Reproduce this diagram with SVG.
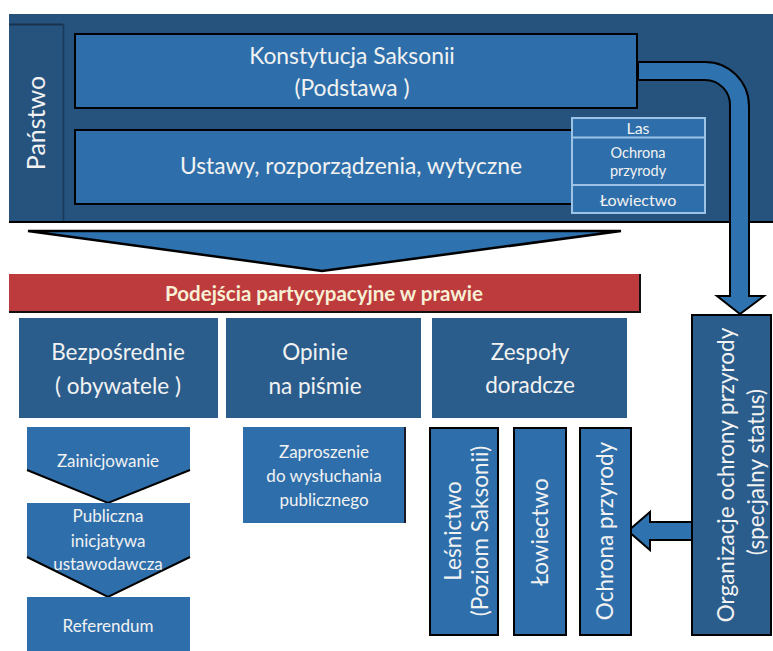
<svg xmlns="http://www.w3.org/2000/svg" width="773" height="651" viewBox="0 0 773 651">
<style>
text{font-family:Lato,"Open Sans","Liberation Sans",sans-serif;fill:#f2f2f2;text-anchor:middle}
.big{font-size:22.8px}
.mid{font-size:22.5px}
.sm{font-size:17px}
.xs{font-size:16px}
.xxs{font-size:14.5px}
.lite{fill:#2e6fab}
.mbox{fill:#2b5d8c}
.blk{stroke:#000;stroke-width:2}
</style>
<rect width="773" height="651" fill="#fff"/>
<g id="panstwo">
<rect x="9" y="14" width="764" height="209" fill="#26527e"/>
<line x1="9" y1="24.5" x2="63" y2="24.5" stroke="#18324d" stroke-width="2"/>
<line x1="63.5" y1="24" x2="63.5" y2="222" stroke="#1a3a5a" stroke-width="1.5"/>
<line x1="9" y1="222" x2="773" y2="222" stroke="#000" stroke-width="2"/>
<text transform="translate(45,123) rotate(-90)" style="font-size:25px">Państwo</text>
</g>
<g id="konstytucja">
<rect x="75" y="34" width="562" height="74" class="lite blk"/>
<text class="big" x="352" y="64">Konstytucja Saksonii</text>
<text class="big" x="352" y="96">(Podstawa )</text>
</g>
<g id="ustawy">
<rect x="75" y="130" width="498" height="74" class="lite blk"/>
<text class="big" x="351" y="174">Ustawy, rozporządzenia, wytyczne</text>
</g>
<g id="tabela">
<rect x="572" y="118" width="133" height="95" fill="#2e6fab" stroke="#9cc3e6" stroke-width="2"/>
<line x1="572" y1="137.5" x2="705" y2="137.5" stroke="#9cc3e6" stroke-width="2"/>
<line x1="572" y1="185" x2="705" y2="185" stroke="#9cc3e6" stroke-width="2"/>
<text class="xs" x="638" y="134">Las</text>
<text class="xxs" x="638" y="158">Ochrona</text>
<text class="xxs" x="638" y="176">przyrody</text>
<text class="xs" x="638" y="206">Łowiectwo</text>
</g>
<g id="connectors">
<path d="M638,62 H705 A44,44 0 0 1 749,106 V296 H764 L740,314 L717,296 H730 V106 A25,25 0 0 0 705,80 H638 Z" fill="#2e73b0" stroke="#000" stroke-width="2" stroke-linejoin="miter"/>
<path d="M28,231 L621,231 L322,271 Z" fill="#2e73b0" stroke="#000" stroke-width="2.5" stroke-linejoin="miter"/>
<path d="M692,522 H650 V512 L628,531 L650,550 V540 H692 Z" fill="#2e73b0" stroke="#000" stroke-width="2"/>
</g>
<g id="podejscia">
<rect x="9" y="274" width="631" height="38" fill="#bd3b3d"/>
<path d="M9,312 H640 V274" fill="none" stroke="#111" stroke-width="2"/>
<text x="324" y="301" style="font-size:20.5px;font-weight:bold;fill:#f7f0d5">Podejścia  partycypacyjne  w prawie</text>
</g>
<g id="bezposrednie">
<rect x="19" y="318" width="199" height="100" class="mbox"/>
<text class="mid" x="118" y="360">Bezpośrednie</text>
<text class="mid" x="118" y="394">( obywatele )</text>
</g>
<g id="opinie">
<rect x="226" y="318" width="195" height="100" class="mbox"/>
<text class="mid" x="315" y="360">Opinie</text>
<text class="mid" x="315" y="394">na piśmie</text>
</g>
<g id="zespoly">
<rect x="432" y="318" width="195" height="100" class="mbox"/>
<text class="mid" x="530" y="360">Zespoły</text>
<text class="mid" x="530" y="393">doradcze</text>
</g>
<g id="zainicjowanie">
<path d="M27,427 H190 V470 L108,503 L27,470 Z" class="lite"/>
<path d="M190,470 L108,503 L27,470" fill="none" stroke="#000" stroke-width="2"/>
<text class="sm" x="108" y="467">Zainicjowanie</text>
</g>
<g id="publiczna">
<path d="M27,503 H190 V557 L108,597 L27,557 Z" class="lite"/>
<path d="M190,557 L108,597 L27,557" fill="none" stroke="#000" stroke-width="2"/>
<text class="sm" x="108" y="522">Publiczna</text>
<text class="sm" x="108" y="547">inicjatywa</text>
<text class="sm" x="108" y="570">ustawodawcza</text>
</g>
<g id="referendum">
<rect x="27" y="597" width="163" height="54" class="lite"/>
<text class="sm" x="108" y="632">Referendum</text>
</g>
<g id="zaproszenie">
<rect x="243" y="427" width="163" height="96" class="lite"/>
<line x1="405" y1="427" x2="405" y2="523" stroke="#1a1a2a" stroke-width="2"/>
<text class="sm" x="324" y="458">Zaproszenie</text>
<text class="sm" x="324" y="482">do  wysłuchania</text>
<text class="sm" x="324" y="506">publicznego</text>
</g>
<g id="lesnictwo">
<rect x="430" y="428" width="68" height="207" class="lite blk"/>
<text class="mid" transform="translate(461,531) rotate(-90)">Leśnictwo</text>
<text class="mid" transform="translate(488,531) rotate(-90)">(Poziom Saksonii)</text>
</g>
<g id="lowiectwo">
<rect x="514" y="428" width="52" height="207" class="lite blk"/>
<text class="mid" transform="translate(548,532) rotate(-90)">Łowiectwo</text>
</g>
<g id="ochrona">
<rect x="580" y="428" width="51" height="207" class="lite blk"/>
<text class="mid" transform="translate(613,531) rotate(-90)">Ochrona przyrody</text>
</g>
<g id="organizacje">
<rect x="692" y="315" width="79" height="320" class="mbox blk"/>
<text class="mid" transform="translate(734,475) rotate(-90)">Organizacje ochrony przyrody</text>
<text class="mid" transform="translate(764,472) rotate(-90)">(specjalny status)</text>
</g>
</svg>
